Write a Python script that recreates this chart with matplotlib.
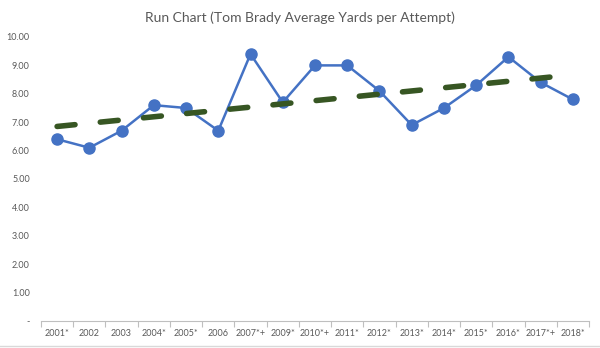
import numpy as np
import matplotlib
matplotlib.use('Agg')
import matplotlib.pyplot as plt

seasons = ['2001*', '2002', '2003', '2004*', '2005*', '2006', '2007*+', '2009*', '2010*+',
           '2011*', '2012*', '2013*', '2014*', '2015*', '2016*', '2017*+', '2018*']
ypa = [6.4, 6.1, 6.7, 7.6, 7.5, 6.7, 9.4, 7.7, 9.0, 9.0, 8.1, 6.9, 7.5, 8.3, 9.3, 8.4, 7.8]

# trend line: category position and value at each end
trend_pos = [0, 15.4]
trend_values = [6.85, 8.6]

y_ticks = [0, 1, 2, 3, 4, 5, 6, 7, 8, 9, 10]


def main():
    plt.rcParams['font.family'] = ['Lato', 'DejaVu Sans']
    fig = plt.figure(figsize=(6.0, 3.48), dpi=100, facecolor='w')
    ax = fig.add_axes([0.0683, 0.0776, 0.9134, 0.8161])

    x = np.arange(len(seasons))

    ax.plot(trend_pos, trend_values, color='#375623', linewidth=4, linestyle=(0, (3.24, 4.57)),
            dash_capstyle='round', solid_capstyle='round', zorder=3)
    ax.plot(x, ypa, color='#4472C4', linewidth=1.8, marker='o', markersize=8,
            markeredgecolor='#4472C4', zorder=2)

    ax.set_xlim(-0.5, len(seasons) - 0.5)
    ax.set_ylim(0, 10)
    ax.set_yticks(y_ticks)
    ax.set_yticklabels(['-'] + ['%.2f' % v for v in y_ticks[1:]])
    ax.tick_params(axis='y', length=0, pad=8, labelsize=6.5, labelcolor='#595959')

    ax.set_xticks(x)
    ax.set_xticklabels(seasons)
    ax.set_xticks(np.arange(-0.5, len(seasons)), minor=True)
    ax.tick_params(axis='x', which='major', length=0, pad=6, labelsize=6.5, labelcolor='#595959')
    ax.tick_params(axis='x', which='minor', length=4, color='#BFBFBF', width=0.8)

    for side in ['left', 'right', 'top']:
        ax.spines[side].set_visible(False)
    ax.spines['bottom'].set_color('#BFBFBF')
    ax.spines['bottom'].set_linewidth(0.8)

    fig.text(0.5, 0.95, 'Run Chart (Tom Brady Average Yards per Attempt)', ha='center', va='center',
             fontsize=10, color='#595959')
    fig.add_artist(plt.Line2D([0, 1], [0.006, 0.006], color='#D9D9D9', linewidth=1))

    fig.savefig('out.png', dpi=100, facecolor='w')
    plt.close(fig)


if __name__ == '__main__':
    main()
